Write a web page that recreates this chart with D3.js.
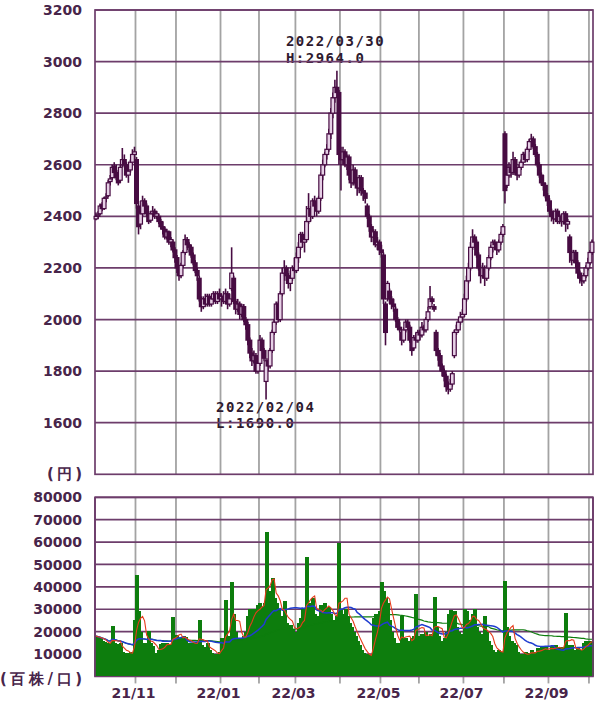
<!DOCTYPE html>
<html><head><meta charset="utf-8">
<script src="https://cdn.jsdelivr.net/npm/d3@7"></script>
<style>body{margin:0;background:#fff}svg{display:block}</style>
</head><body>
<svg id="c" width="600" height="710"></svg>
<script>
// ---------- DATA ----------
const firstDay = "2021-10-04", lastDay = "2022-10-04";
const holidays = ["2021-11-03","2021-11-23","2021-12-31","2022-01-03","2022-01-10","2022-02-11","2022-02-23",
  "2022-03-21","2022-04-29","2022-05-03","2022-05-04","2022-05-05","2022-07-18","2022-08-11","2022-09-19","2022-09-23"];
// [open, high, low, close]
const candles = [
 // 2021/10
 [2390,2415,2385,2400],[2400,2420,2390,2405],[2410,2450,2405,2440],[2445,2455,2420,2430],[2430,2475,2425,2470],
 [2470,2490,2455,2475],[2480,2540,2475,2530],[2535,2560,2520,2545],[2550,2600,2540,2590],[2595,2610,2560,2570],
 [2570,2600,2540,2550],[2555,2580,2520,2530],[2540,2600,2530,2590],[2600,2665,2590,2620],[2620,2640,2590,2600],
 [2600,2610,2550,2560],[2560,2590,2530,2575],[2580,2620,2570,2610],[2610,2660,2600,2640],[2640,2670,2620,2650],
 // 2021/11
 [2620,2630,2430,2450],[2440,2460,2330,2360],[2370,2420,2350,2410],[2410,2480,2400,2460],[2460,2470,2420,2440],
 [2440,2450,2400,2410],[2410,2420,2370,2380],[2385,2420,2375,2410],[2410,2440,2400,2420],[2420,2430,2390,2400],
 [2400,2420,2390,2410],[2400,2410,2370,2380],[2380,2390,2350,2360],[2360,2380,2330,2350],[2350,2360,2310,2320],
 [2320,2350,2310,2340],[2340,2345,2290,2300],[2300,2320,2280,2310],[2300,2310,2260,2270],[2270,2280,2220,2240],
 // 2021/12
 [2240,2250,2180,2200],[2200,2210,2150,2170],[2170,2220,2160,2210],[2210,2270,2200,2260],[2260,2330,2250,2310],
 [2310,2320,2270,2290],[2290,2300,2260,2280],[2280,2290,2240,2250],[2250,2260,2210,2220],[2220,2230,2180,2190],
 [2190,2200,2150,2170],[2160,2170,2070,2080],[2080,2090,2030,2050],[2050,2090,2040,2080],[2080,2100,2050,2060],
 [2060,2100,2050,2090],[2090,2100,2050,2060],[2060,2090,2050,2080],[2080,2110,2070,2100],[2100,2110,2060,2070],
 [2070,2110,2060,2100],[2100,2120,2070,2080],
 // 2022/01
 [2080,2100,2050,2090],[2090,2110,2060,2070],[2070,2120,2060,2100],[2100,2110,2040,2060],[2060,2100,2050,2080],
 [2120,2280,2110,2180],[2160,2170,2060,2070],[2070,2080,2020,2040],[2040,2080,2030,2060],[2060,2070,2000,2020],
 [2020,2060,2010,2050],[2050,2060,1990,2000],[2000,2010,1960,1980],[1980,1990,1900,1920],[1920,1930,1850,1870],
 [1870,1890,1820,1840],[1840,1880,1830,1860],[1860,1870,1790,1800],[1800,1850,1790,1830],
 // 2022/02
 [1830,1940,1820,1920],[1920,1930,1860,1880],[1880,1890,1840,1850],[1760,1850,1690,1840],[1840,1850,1800,1820],
 [1820,1890,1810,1880],[1880,1960,1870,1950],[1950,2000,1940,1990],[1990,2070,1980,2060],[2060,2070,1990,2000],
 [2000,2110,1990,2100],[2100,2200,2090,2180],[2180,2230,2150,2200],[2200,2210,2150,2170],[2170,2180,2120,2140],
 [2140,2190,2110,2160],[2160,2210,2150,2200],[2200,2240,2180,2190],
 // 2022/03
 [2190,2260,2180,2240],[2240,2300,2220,2280],[2280,2340,2270,2330],[2330,2340,2280,2300],[2300,2330,2260,2310],
 [2310,2440,2300,2380],[2380,2490,2370,2430],[2430,2440,2380,2400],[2400,2470,2390,2460],[2460,2480,2420,2440],
 [2440,2470,2400,2420],[2420,2480,2410,2470],[2470,2570,2460,2560],[2560,2620,2540,2600],[2600,2650,2590,2640],
 [2640,2680,2620,2660],[2660,2740,2650,2720],[2720,2820,2700,2800],[2800,2880,2780,2860],[2860,2930,2840,2900],
 [2900,2964,2860,2880],[2880,2890,2600,2640],
 // 2022/04
 [2640,2670,2500,2620],[2620,2670,2600,2650],[2650,2660,2590,2600],[2600,2640,2580,2630],[2630,2640,2540,2560],
 [2560,2580,2510,2530],[2530,2600,2520,2580],[2580,2590,2520,2530],[2530,2540,2480,2510],[2510,2560,2490,2550],
 [2550,2560,2480,2500],[2500,2510,2460,2490],[2490,2500,2450,2470],[2440,2450,2390,2400],[2400,2410,2340,2360],
 [2360,2370,2300,2320],[2320,2350,2300,2340],[2340,2350,2280,2290],[2290,2320,2270,2300],[2300,2310,2250,2270],
 // 2022/05
 [2270,2290,2240,2260],[2250,2260,2060,2080],[2060,2070,1900,1950],[2080,2150,2070,2140],[2110,2120,2060,2080],
 [2080,2090,2040,2060],[2060,2080,2030,2050],[2040,2050,1990,2000],[2000,2010,1960,1970],[1970,1990,1950,1960],
 [1950,1960,1900,1920],[1920,1970,1910,1960],[1960,2000,1950,1990],[1990,2000,1960,1970],[1970,1980,1910,1920],
 [1920,1930,1860,1880],[1890,1940,1880,1930],[1930,1950,1910,1920],[1920,1960,1910,1950],
 // 2022/06
 [1950,1960,1920,1940],[1940,1990,1930,1970],[1970,1980,1950,1960],[1960,2010,1950,2000],[2000,2050,1990,2030],
 [2050,2130,2040,2080],[2080,2090,2060,2070],[2050,2060,2030,2040],[1950,1960,1860,1880],[1880,1890,1840,1860],
 [1860,1870,1800,1820],[1820,1830,1780,1800],[1800,1810,1760,1780],[1780,1790,1720,1740],[1740,1760,1710,1730],
 [1730,1770,1720,1750],[1750,1800,1740,1790],[1860,1960,1850,1950],[1950,1980,1940,1960],[1960,2000,1950,1990],
 [1990,2030,1980,2010],[2010,2040,1990,2020],
 // 2022/07
 [2020,2100,2010,2080],[2080,2170,2070,2150],[2150,2220,2140,2200],[2200,2300,2190,2280],[2280,2350,2270,2320],
 [2320,2330,2280,2300],[2300,2310,2240,2250],[2250,2260,2190,2200],[2200,2210,2140,2170],[2170,2220,2160,2200],
 [2200,2210,2130,2160],[2160,2210,2150,2200],[2200,2250,2190,2240],[2240,2290,2230,2280],[2280,2310,2260,2300],
 [2300,2310,2270,2290],[2290,2300,2250,2270],[2270,2310,2260,2300],[2300,2340,2290,2330],[2330,2370,2320,2360],
 // 2022/08
 [2720,2730,2450,2500],[2520,2600,2510,2560],[2560,2610,2550,2590],[2590,2600,2550,2570],[2570,2650,2560,2620],
 [2620,2630,2560,2570],[2570,2580,2540,2560],[2560,2600,2550,2590],[2590,2620,2580,2610],[2610,2650,2600,2640],
 [2640,2650,2610,2620],[2620,2670,2610,2660],[2660,2700,2650,2690],[2690,2720,2680,2700],[2700,2710,2660,2670],
 [2670,2680,2630,2640],[2640,2650,2590,2600],[2600,2610,2550,2560],[2560,2570,2520,2530],[2530,2560,2500,2520],
 [2520,2530,2470,2480],[2480,2490,2440,2460],
 // 2022/09
 [2460,2470,2410,2420],[2420,2430,2380,2400],[2400,2410,2370,2390],[2390,2430,2380,2420],[2420,2430,2370,2380],
 [2380,2410,2370,2400],[2400,2410,2360,2380],[2380,2420,2370,2410],[2410,2420,2340,2370],[2370,2390,2350,2380],
 [2320,2330,2220,2260],[2260,2270,2210,2230],[2230,2270,2220,2260],[2260,2270,2200,2220],[2220,2230,2160,2180],
 [2180,2190,2140,2160],[2160,2170,2130,2150],[2150,2180,2140,2170],[2170,2210,2160,2200],[2200,2240,2190,2220],
 // 2022/10
 [2220,2270,2210,2260],[2260,2310,2250,2300]
];
const volumes = [
 // 2021/10
 18000,17500,17000,16000,15500,15000,12500,15000,22500,15000,14500,12000,15000,11000,10500,10000,10500,11000,10000,25000,
 // 2021/11
 45500,29000,20000,14500,15000,14000,20500,15000,13500,10500,9500,12000,14500,15000,14000,15000,13000,14500,26500,16000,
 // 2021/12
 18500,17000,16500,18000,17500,15000,14500,15000,14000,15500,14500,25000,14000,13000,12500,15000,12000,10500,10000,9500,10000,11000,
 // 2022/01
 17000,16000,34000,17000,18000,42000,28000,20000,17000,16000,17000,18000,20000,27000,30000,26000,30000,29000,32000,
 // 2022/02
 33000,31000,33000,64500,36000,38000,44000,35000,33000,30000,27000,25000,33500,24000,22000,23000,21000,20000,
 // 2022/03
 20000,24000,26000,30000,25000,53500,30000,33000,35000,28000,26000,27000,32000,31000,33000,30000,31000,28000,25000,24000,27000,59500,
 // 2022/04
 30000,28000,30000,27000,24000,22000,20000,18000,16000,14000,12000,10500,9000,10000,8000,9500,26000,28000,27000,29000,
 // 2022/05
 42000,38000,35000,33000,25000,20000,17000,15000,15000,14000,27000,15000,17000,16000,15000,17000,18000,37000,17000,
 // 2022/06
 18000,19000,17000,20000,18000,19000,17000,35500,22000,18000,16000,15000,17000,20000,28000,29500,29000,29000,22000,20000,19000,18000,
 // 2022/07
 30000,29000,22000,25000,28000,30000,22000,20000,18000,19000,27000,20000,16000,14000,12000,11000,10500,12000,10000,11000,
 // 2022/08
 42500,22000,18000,16000,15000,14000,11000,10000,9500,10000,11000,9000,10500,12000,10000,11000,12500,11000,13000,12000,13000,11500,
 // 2022/09
 12000,13500,12000,14000,12500,13000,11500,13000,28500,14000,12500,14000,12000,11000,12500,11000,12000,15000,16000,15500,
 // 2022/10
 16000,15500
];
const priceTicks = [3200,3000,2800,2600,2400,2200,2000,1800,1600];
const volumeTicks = [80000,70000,60000,50000,40000,30000,20000,10000];
const maPeriods = [5,25,75];
const priceUnit = "(円)", volumeUnit = "(百株/口)";

// ---------- CHART ----------
const svg = d3.select("#c");
const parseD = d3.utcParse("%Y-%m-%d");
const fmtKey = d3.utcFormat("%Y-%m-%d");
const days = d3.utcDay.range(parseD(firstDay), d3.utcDay.offset(parseD(lastDay), 1))
  .filter(d => d.getUTCDay() % 6 !== 0 && !holidays.includes(fmtKey(d)));
const N = candles.length;

const L = 95, R = 593;
const PT = 10, PB = 474.3, VT = 497.3, VB = 676.4;
const x = d3.scaleBand().domain(d3.range(N)).range([L, R]).padding(0);
const bw = x.bandwidth();
const y = d3.scaleLinear().domain([1400, 3200]).range([PB, PT]);
const vy = d3.scaleLinear().domain([0, 80000]).range([VB, VT]);

const purple = "#6d3d6b", gray = "#a3a3a3", candleCol = "#470c42", txt = "#48254a", barCol = "#0d7d0d";
const monthStarts = d3.range(1, N).filter(i => days[i].getUTCMonth() !== days[i-1].getUTCMonth());

// vertical grid lines
const gV = svg.append("g");
monthStarts.forEach(i => {
  const xx = x(i);
  gV.append("line").attr("x1", xx).attr("x2", xx).attr("y1", PT).attr("y2", PB).attr("stroke", gray).attr("stroke-width", 1.8);
  gV.append("line").attr("x1", xx).attr("x2", xx).attr("y1", VT).attr("y2", VB + 7).attr("stroke", gray).attr("stroke-width", 1.8);
});

// annotations (drawn beneath horizontal grid lines)
const iHi = d3.maxIndex(candles, d => d[1]);
const iLo = d3.minIndex(candles, d => d[2]);
const fmtD = d3.utcFormat("%Y/%m/%d");
const ann = svg.append("g").attr("font-family", "DejaVu Sans Mono, monospace").attr("font-weight", "bold")
  .attr("font-size", 14).attr("fill", "#2e1a2e").attr("letter-spacing", 1.5);
ann.append("text").attr("x", x(iHi) + bw/2 - 51).attr("y", y(candles[iHi][1]) - 25).text(fmtD(days[iHi]));
ann.append("text").attr("x", x(iHi) + bw/2 - 51).attr("y", y(candles[iHi][1]) - 8).text("H:" + candles[iHi][1].toFixed(1));
ann.append("text").attr("x", x(iLo) + bw/2 - 50).attr("y", y(candles[iLo][2]) + 13).text(fmtD(days[iLo]));
ann.append("text").attr("x", x(iLo) + bw/2 - 50).attr("y", y(candles[iLo][2]) + 29).text("L:" + candles[iLo][2].toFixed(1));

// horizontal grid lines
const gH = svg.append("g");
priceTicks.forEach(t => gH.append("line").attr("x1", L).attr("x2", R).attr("y1", y(t)).attr("y2", y(t)).attr("stroke", purple).attr("stroke-width", 1.7));
volumeTicks.forEach(t => gH.append("line").attr("x1", L).attr("x2", R).attr("y1", vy(t)).attr("y2", vy(t)).attr("stroke", purple).attr("stroke-width", 1.7));

// borders
svg.append("rect").attr("x", L).attr("y", PT).attr("width", R - L).attr("height", PB - PT).attr("fill", "none").attr("stroke", purple).attr("stroke-width", 1.7);
svg.append("rect").attr("x", L).attr("y", VT).attr("width", R - L).attr("height", VB - VT).attr("fill", "none").attr("stroke", purple).attr("stroke-width", 1.7);

// candles
const cw = 5;
const gC = svg.append("g");
candles.forEach((d, i) => {
  const cx = x(i) + bw/2;
  const [o, h, l, c] = d;
  gC.append("line").attr("x1", cx).attr("x2", cx).attr("y1", y(h)).attr("y2", y(l)).attr("stroke", candleCol).attr("stroke-width", 1.6);
});
candles.forEach((d, i) => {
  const cx = x(i) + bw/2;
  const [o, h, l, c] = d;
  const top = y(Math.max(o, c)), bot = y(Math.min(o, c));
  if (c > o) {
    gC.append("rect").attr("x", cx - cw/2 + 0.6).attr("y", top).attr("width", cw - 1.2).attr("height", Math.max(1, bot - top))
      .attr("fill", "#e6d0e6").attr("stroke", candleCol).attr("stroke-width", 1.2);
  } else {
    gC.append("rect").attr("x", cx - cw/2).attr("y", top - 0.6).attr("width", cw).attr("height", Math.max(2, bot - top + 1.2))
      .attr("fill", candleCol);
  }
});

// volume bars
svg.append("g").attr("shape-rendering", "crispEdges").selectAll("rect").data(volumes).join("rect")
  .attr("x", (d, i) => Math.floor(x(i))).attr("width", Math.ceil(bw) + 1)
  .attr("y", d => vy(d)).attr("height", d => VB - vy(d)).attr("fill", barCol);

// moving averages (long one in bar colour, hidden where it runs inside the bars)
const maColors = ["#e63c1c", "#1f3dd0", barCol];
const maWidths = [1.1, 1.5, 1.2];
const line = d3.line().x((d, i) => x(i) + bw/2).y(d => vy(d));
[2, 1, 0].forEach(idx => {
  const p = maPeriods[idx];
  const ma = volumes.map((v, i) => d3.mean(volumes.slice(Math.max(0, i - p + 1), i + 1)));
  svg.append("path").attr("d", line(ma)).attr("fill", "none").attr("stroke", maColors[idx]).attr("stroke-width", maWidths[idx]);
});

svg.append("line").attr("x1", R).attr("x2", R).attr("y1", VT).attr("y2", VB).attr("stroke", purple).attr("stroke-width", 1.7);
svg.append("line").attr("x1", L).attr("x2", L).attr("y1", VT).attr("y2", VB).attr("stroke", purple).attr("stroke-width", 1.7);

// axis labels
const lab = svg.append("g").attr("font-family", "DejaVu Sans, sans-serif").attr("font-weight", "bold")
  .attr("font-size", 14).attr("fill", txt);
priceTicks.forEach(t => lab.append("text").attr("x", 82).attr("y", y(t)).attr("dy", "0.36em").attr("text-anchor", "end").text(t));
volumeTicks.forEach(t => lab.append("text").attr("x", 82).attr("y", vy(t)).attr("dy", "0.36em").attr("text-anchor", "end").text(t));
lab.append("text").attr("x", 82).attr("y", 479).attr("text-anchor", "end").attr("font-size", 15).attr("textLength", 35).attr("lengthAdjust", "spacing").text(priceUnit);
lab.append("text").attr("x", 82).attr("y", 684).attr("text-anchor", "end").attr("font-size", 15).attr("textLength", 82).attr("lengthAdjust", "spacing").text(volumeUnit);

const fmtM = d3.utcFormat("%y/%m");
monthStarts.filter(i => days[i].getUTCMonth() % 2 === 0).forEach(i => {
  lab.append("text").attr("x", x(i) - 24).attr("y", 698).attr("text-anchor", "start").text(fmtM(days[i]));
});
</script>
</body></html>
